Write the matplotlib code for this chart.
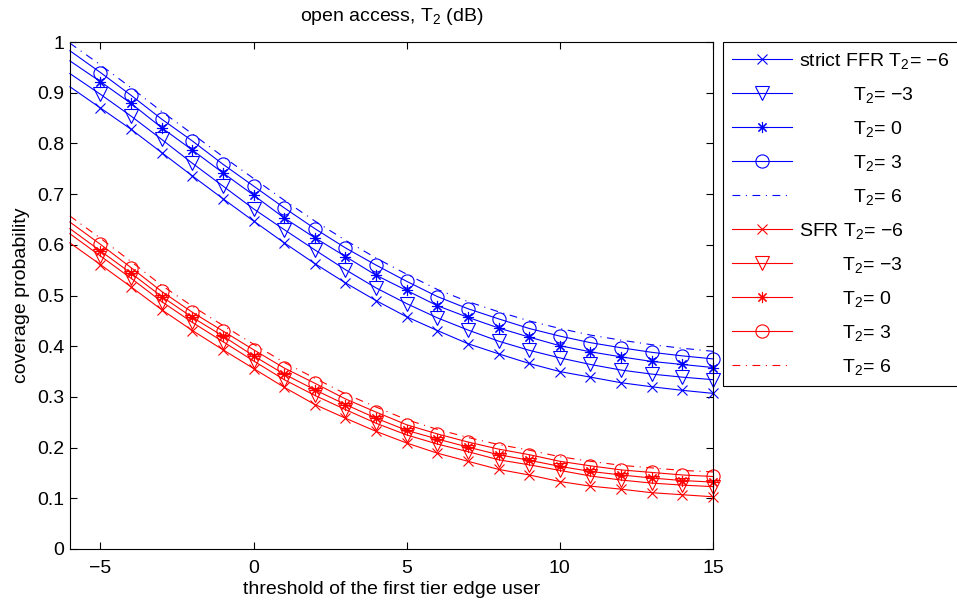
import numpy as np
import matplotlib
matplotlib.use("Agg")
import matplotlib.pyplot as plt

plt.rcParams['font.family'] = ['Liberation Sans', 'DejaVu Sans']
plt.rcParams['mathtext.fontset'] = 'custom'
plt.rcParams['mathtext.rm'] = 'Liberation Sans'
plt.rcParams['mathtext.default'] = 'regular'

# threshold (dB), line starts at -6, markers from -5
thr = np.arange(-6, 16)

# strict FFR, T2 = -6, -3, 0, 3, 6
ffr_m6 = [0.912, 0.870, 0.828, 0.782, 0.736, 0.691, 0.647, 0.604, 0.563, 0.525, 0.490,
          0.458, 0.431, 0.405, 0.385, 0.366, 0.350, 0.339, 0.328, 0.320, 0.313, 0.307]
ffr_m3 = [0.938, 0.897, 0.854, 0.808, 0.761, 0.716, 0.671, 0.630, 0.590, 0.551, 0.515,
          0.484, 0.456, 0.432, 0.410, 0.392, 0.377, 0.364, 0.353, 0.345, 0.339, 0.334]
ffr_0 = [0.963, 0.922, 0.879, 0.831, 0.787, 0.742, 0.698, 0.653, 0.614, 0.577, 0.540,
         0.510, 0.480, 0.457, 0.436, 0.418, 0.401, 0.389, 0.379, 0.370, 0.364, 0.358]
ffr_3 = [0.983, 0.940, 0.895, 0.848, 0.805, 0.759, 0.716, 0.673, 0.632, 0.594, 0.560,
         0.528, 0.498, 0.474, 0.454, 0.435, 0.420, 0.407, 0.397, 0.388, 0.381, 0.375]
ffr_6 = [0.998, 0.955, 0.910, 0.863, 0.819, 0.774, 0.731, 0.688, 0.647, 0.609, 0.574,
         0.542, 0.512, 0.488, 0.468, 0.450, 0.435, 0.422, 0.412, 0.403, 0.396, 0.390]

# SFR
sfr_m6 = [0.604, 0.561, 0.517, 0.472, 0.431, 0.393, 0.356, 0.319, 0.285, 0.258, 0.232,
          0.209, 0.189, 0.173, 0.157, 0.146, 0.133, 0.124, 0.118, 0.111, 0.107, 0.103]
sfr_m3 = [0.622, 0.578, 0.534, 0.488, 0.447, 0.409, 0.371, 0.334, 0.303, 0.275, 0.248,
          0.225, 0.207, 0.192, 0.176, 0.166, 0.155, 0.144, 0.136, 0.130, 0.126, 0.123]
sfr_0 = [0.632, 0.588, 0.544, 0.498, 0.457, 0.420, 0.381, 0.345, 0.314, 0.285, 0.258,
         0.234, 0.217, 0.201, 0.186, 0.175, 0.163, 0.153, 0.146, 0.140, 0.135, 0.132]
sfr_3 = [0.645, 0.601, 0.555, 0.508, 0.467, 0.430, 0.393, 0.357, 0.327, 0.296, 0.270,
         0.245, 0.227, 0.211, 0.197, 0.186, 0.173, 0.164, 0.156, 0.151, 0.146, 0.143]
sfr_6 = [0.657, 0.613, 0.567, 0.520, 0.479, 0.441, 0.404, 0.368, 0.337, 0.306, 0.280,
         0.255, 0.236, 0.220, 0.206, 0.195, 0.182, 0.173, 0.165, 0.160, 0.155, 0.152]

ffr_labels = ['strict FFR T$_2$= \u22126',
              '          T$_2$= \u22123',
              '          T$_2$= 0',
              '          T$_2$= 3',
              '          T$_2$= 6']
sfr_labels = ['SFR T$_2$= \u22126',
              '        T$_2$= \u22123',
              '        T$_2$= 0',
              '        T$_2$= 3',
              '        T$_2$= 6']

markers = ['x', 'v', (8, 2, 0), 'o', None]
msizes = [6.5, 9.5, 8, 9.5, 0]
styles = ['-', '-', '-', '-', (0, (7, 5, 1, 5))]

fig = plt.figure(figsize=(9.57, 6.07), dpi=100)
ax = fig.add_axes([0.073, 0.0956, 0.672, 0.835])

for series, labels, col in [([ffr_m6, ffr_m3, ffr_0, ffr_3, ffr_6], ffr_labels, (0, 0, 1)),
                            ([sfr_m6, sfr_m3, sfr_0, sfr_3, sfr_6], sfr_labels, (1, 0, 0))]:
    for y, lab, mk, ms, ls in zip(series, labels, markers, msizes, styles):
        ax.plot(thr, y, color=col, lw=0.8, linestyle=ls, marker=mk, markersize=ms,
                markerfacecolor='none', markeredgecolor=col, markeredgewidth=0.8,
                markevery=slice(1, None), label=lab, clip_on=False)

ax.set_xlim(-6, 15)
ax.set_ylim(0, 1)
ax.set_xticks([-5, 0, 5, 10, 15])
ax.set_yticks(np.arange(0, 1.01, 0.1))
ax.set_yticklabels(['0', '0.1', '0.2', '0.3', '0.4', '0.5', '0.6', '0.7', '0.8', '0.9', '1'])
ax.tick_params(direction='in', top=True, right=True, length=5, labelsize=14, width=0.8, pad=4)
ax.tick_params(axis='x', pad=8)
for s in ax.spines.values():
    s.set_linewidth(0.8)

ax.set_xlabel('threshold of the first tier edge user', fontsize=14, labelpad=3)
ax.set_ylabel('coverage probability', fontsize=14, labelpad=5)
ax.set_title('open access, T$_2$ (dB)', fontsize=14, pad=15)

leg = ax.legend(loc='upper left', bbox_to_anchor=(723 / 957, 565 / 607),
                bbox_transform=fig.transFigure, fontsize=14, frameon=True,
                fancybox=False, edgecolor='black', framealpha=1,
                handlelength=3.1, handletextpad=0.36, labelspacing=0.72,
                borderpad=0.45, borderaxespad=0)
leg.get_frame().set_linewidth(0.8)

fig.savefig('out.png', dpi=100)
